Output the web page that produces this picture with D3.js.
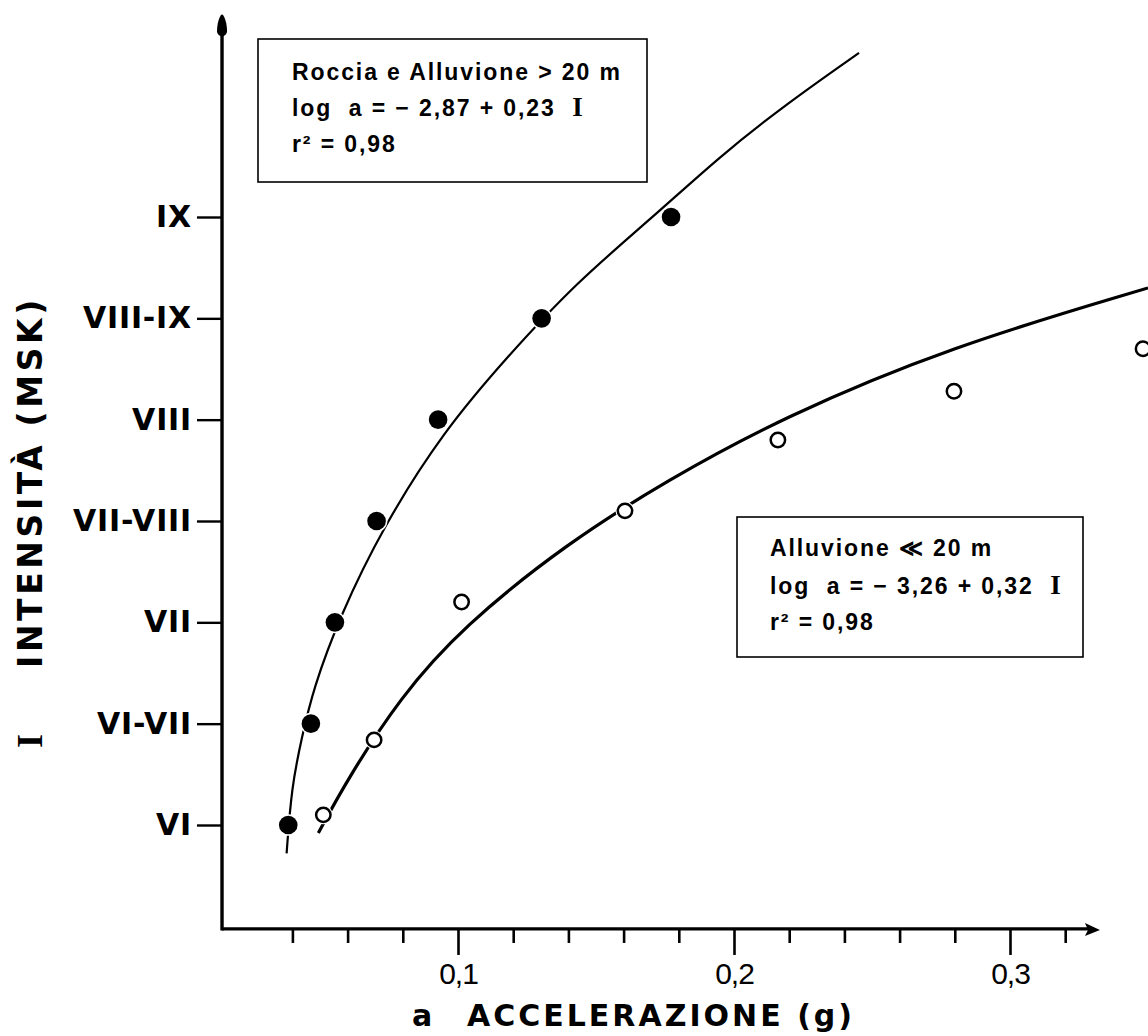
<!DOCTYPE html>
<html>
<head>
<meta charset="utf-8">
<script src="https://cdn.jsdelivr.net/npm/d3@7/dist/d3.min.js"></script>
<style>
  html, body { margin: 0; padding: 0; background: #fff; }
  svg { display: block; }
</style>
</head>
<body>
<svg id="chart" width="1148" height="1036"></svg>
<script>
// ---------------- DATA ----------------
// Intensity (MSK) ticks and labels
const intensityTicks  = [6, 6.5, 7, 7.5, 8, 8.5, 9];
const intensityLabels = ["VI", "VI-VII", "VII", "VII-VIII", "VIII", "VIII-IX", "IX"];

// Acceleration axis ticks (g)
const accelMinorTicks = [0.04, 0.06, 0.08, 0.12, 0.14, 0.16, 0.18, 0.22, 0.24, 0.26, 0.28, 0.32];
const accelMajorTicks = [0.1, 0.2, 0.3];
const accelMajorLabels = ["0,1", "0,2", "0,3"];

// Roccia e Alluvione > 20 m (filled points)
const rockI = [6, 6.5, 7, 7.5, 8, 8.5, 9];
const rockA = [0.0385, 0.0467, 0.0554, 0.0705, 0.0928, 0.1303, 0.1772];

// Alluvione <= 20 m (open points)
const alluvI = [6.05, 6.42, 7.10, 7.55, 7.90, 8.14, 8.35];
const alluvA = [0.0512, 0.0696, 0.1013, 0.1605, 0.2159, 0.2797, 0.3482];

// Regression curves
const rockCurveI = [5.86, 6.19, 6.43, 6.67, 7.03, 7.47, 7.94, 8.31, 8.68, 9.00, 9.30, 9.56, 9.81];
const rockCurveA = [0.0379, 0.0397, 0.0434, 0.0475, 0.0572, 0.0728, 0.0946, 0.1178, 0.1431, 0.1707, 0.1949, 0.2192, 0.2453];

const alluvCurveI = [5.96, 6.22, 6.63, 6.98, 7.39, 7.70, 8.01, 8.36, 8.65];
const alluvCurveA = [0.0494, 0.0597, 0.0790, 0.1018, 0.1395, 0.1757, 0.2174, 0.2783, 0.3500];

// Legend texts
const legend1 = { title: "Roccia e Alluvione > 20 m", eq: "log  a = − 2,87 + 0,23  ", r2: "r² = 0,98" };
const legend2 = { title: "Alluvione ≪ 20 m", eq: "log  a = − 3,26 + 0,32  ", r2: "r² = 0,98" };

// ---------------- DRAWING ----------------
const svg = d3.select("#chart");

const x = d3.scaleLinear().domain([0, 0.1]).range([182, 458]);
const y = d3.scaleLinear().domain([6, 9]).range([825, 217]);

const axisXStart = 0.0145, axisXEnd = 0.3326;   // extent of horizontal axis (in g)
const axisYStart = 5.487,  axisYEnd = 10.0;     // extent of vertical axis (in I)

const x0 = x(axisXStart), y0 = y(axisYStart);

// ---- X axis ticks ----
const gx = svg.append("g").attr("transform", `translate(0,${y0})`);
const minorAxis = d3.axisBottom(x).tickValues(accelMinorTicks).tickSize(14).tickFormat("");
const majorAxis = d3.axisBottom(x).tickValues(accelMajorTicks).tickSize(26).tickPadding(8)
  .tickFormat((d, i) => accelMajorLabels[i]);
gx.append("g").call(minorAxis);
gx.append("g").call(majorAxis);
gx.selectAll(".domain").remove();
gx.selectAll(".tick line").attr("stroke", "#000").attr("stroke-width", 2.6);
gx.selectAll(".tick text")
  .attr("fill", "#000")
  .attr("font-family", "'Liberation Sans Narrow', 'Liberation Sans', sans-serif")
  .attr("font-size", 30)
  .attr("letter-spacing", -1);

// ---- Y axis ticks ----
const gy = svg.append("g").attr("transform", `translate(${x0},0)`);
const yAxis = d3.axisLeft(y).tickValues(intensityTicks).tickSize(25).tickPadding(5)
  .tickFormat((d, i) => intensityLabels[i]);
gy.call(yAxis);
gy.select(".domain").remove();
gy.selectAll(".tick line").attr("stroke", "#000").attr("stroke-width", 2.4);
gy.selectAll(".tick text")
  .attr("fill", "#000")
  .attr("font-family", "'DejaVu Sans', sans-serif")
  .attr("font-weight", "bold")
  .attr("font-size", 30)
  .attr("letter-spacing", 0.8);

// ---- Axis lines ----
svg.append("line")
  .attr("x1", x0).attr("x2", x(axisXEnd) - 10)
  .attr("y1", y0).attr("y2", y0)
  .attr("stroke", "#000").attr("stroke-width", 3.2);
svg.append("line")
  .attr("x1", x0).attr("x2", x0)
  .attr("y1", y0 + 1.5).attr("y2", y(axisYEnd) + 18)
  .attr("stroke", "#000").attr("stroke-width", 3.4);

// arrow heads
const xt = x(axisXEnd), yt = y(axisYEnd);
svg.append("path")
  .attr("d", `M${xt},${y0 + 1} L${xt - 15},${y0 - 6} L${xt - 12},${y0 + 1} L${xt - 15},${y0 + 7} Z`)
  .attr("fill", "#000");
svg.append("path")
  .attr("d", `M${x0},${yt} C${x0 + 3},${yt + 2} ${x0 + 5},${yt + 10} ${x0 + 5},${yt + 17}
              C${x0 + 5},${yt + 20} ${x0 + 2},${yt + 22} ${x0},${yt + 22}
              C${x0 - 2},${yt + 22} ${x0 - 5},${yt + 20} ${x0 - 5},${yt + 17}
              C${x0 - 5},${yt + 10} ${x0 - 3},${yt + 2} ${x0},${yt} Z`)
  .attr("fill", "#000");

// ---- Curves ----
const line = d3.line().x(d => x(d[1])).y(d => y(d[0])).curve(d3.curveBasis);

svg.append("path")
  .datum(d3.zip(rockCurveI, rockCurveA))
  .attr("d", line)
  .attr("fill", "none").attr("stroke", "#000").attr("stroke-width", 2.2);

svg.append("path")
  .datum(d3.zip(alluvCurveI, alluvCurveA))
  .attr("d", line)
  .attr("fill", "none").attr("stroke", "#000").attr("stroke-width", 3.2);

// ---- Points ----
svg.append("g").selectAll("circle")
  .data(d3.zip(rockI, rockA))
  .join("circle")
  .attr("cx", d => x(d[1])).attr("cy", d => y(d[0]))
  .attr("r", 9.3)
  .attr("fill", "#000")
  .attr("stroke", "#fff").attr("stroke-width", 3)
  .attr("paint-order", "stroke");

svg.append("g").selectAll("circle.halo")
  .data(d3.zip(alluvI, alluvA))
  .join("circle")
  .attr("cx", d => x(d[1])).attr("cy", d => y(d[0]))
  .attr("r", 9.5)
  .attr("fill", "#fff");
svg.append("g").selectAll("circle.open")
  .data(d3.zip(alluvI, alluvA))
  .join("circle")
  .attr("cx", d => x(d[1])).attr("cy", d => y(d[0]))
  .attr("r", 7.2)
  .attr("fill", "#fff")
  .attr("stroke", "#000").attr("stroke-width", 2.5);

// ---- Legend boxes ----
function legendBox(cfg, bx, by, bw, bh, tx, baselines) {
  const g = svg.append("g");
  g.append("rect")
    .attr("x", bx).attr("y", by).attr("width", bw).attr("height", bh)
    .attr("fill", "#fff").attr("stroke", "#000").attr("stroke-width", 1.6);
  const style = t => t
    .attr("font-family", "'Liberation Sans', Arial, sans-serif")
    .attr("font-weight", "bold")
    .attr("font-size", 23)
    .attr("letter-spacing", 1.9)
    .attr("fill", "#000");
  style(g.append("text").attr("x", tx).attr("y", baselines[0]).attr("xml:space", "preserve").text(cfg.title));
  const eq = style(g.append("text").attr("x", tx).attr("y", baselines[1]).attr("xml:space", "preserve"));
  eq.append("tspan").text(cfg.eq);
  eq.append("tspan")
    .attr("font-family", "'Liberation Serif', 'DejaVu Serif', serif")
    .attr("font-weight", "bold")
    .attr("font-size", 27)
    .text("I");
  style(g.append("text").attr("x", tx).attr("y", baselines[2]).attr("xml:space", "preserve").text(cfg.r2));
}
legendBox(legend1, 258, 39, 389, 143, 292, [80, 116, 152]);
legendBox(legend2, 737, 517, 346, 140, 770, [556, 594, 630]);

// ---- Axis titles ----
const xTitle = svg.append("text")
  .attr("x", 412).attr("y", 1026)
  .attr("font-family", "'DejaVu Sans', sans-serif")
  .attr("font-weight", "bold")
  .attr("font-size", 30)
  .attr("fill", "#000")
  .attr("xml:space", "preserve");
xTitle.append("tspan").text("a");
xTitle.append("tspan").attr("x", 467).attr("letter-spacing", 3).text("ACCELERAZIONE (g)");

const yTitle = svg.append("g").attr("transform", "translate(42, 0) rotate(-90)");
yTitle.append("text")
  .attr("x", -748).attr("y", 0)
  .attr("font-family", "'Liberation Serif', 'DejaVu Serif', serif")
  .attr("font-weight", "bold")
  .attr("font-size", 36)
  .attr("fill", "#000")
  .text("I");
yTitle.append("text")
  .attr("x", -668).attr("y", 0)
  .attr("font-family", "'DejaVu Sans', sans-serif")
  .attr("font-weight", "bold")
  .attr("font-size", 33)
  .attr("letter-spacing", 3.6)
  .attr("fill", "#000")
  .text("INTENSITÀ (MSK)");
</script>
</body>
</html>
